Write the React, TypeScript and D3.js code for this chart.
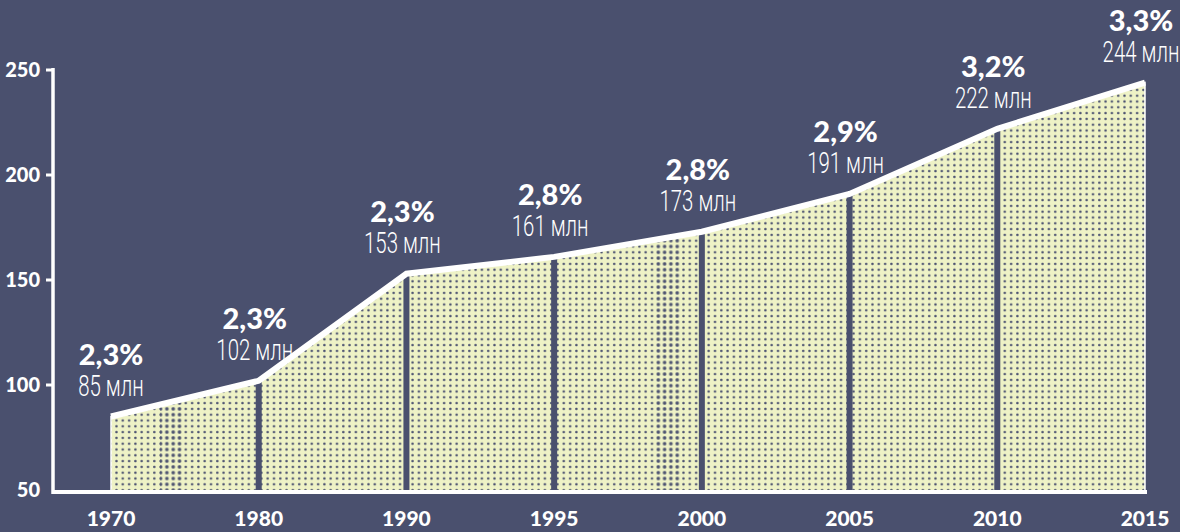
import * as d3 from 'd3'

const years = ['1970', '1980', '1990', '1995', '2000', '2005', '2010', '2015']
const values = [85, 102, 153, 161, 173, 191, 222, 244]
const shares = ['2,3%', '2,3%', '2,3%', '2,8%', '2,8%', '2,9%', '3,2%', '3,3%']
const yTicks = [50, 100, 150, 200, 250]

const W = 1180
const H = 532
const BG = '#4a506e'
const FILL = '#eef2c6'
const DOT = '#4b5170'

// halftone moiré columns seen in the print
const moire = [
  [160, 182],
  [655, 680],
]

export default function App() {
  const x = d3.scalePoint<string>().domain(years).range([111, 1145])
  const y = d3.scaleLinear().domain([50, 250]).range([490, 70])
  const base = 492
  const axisX = 53

  const pts = years.map((yr, i) => ({ yr, v: values[i], s: shares[i] }))

  const area = d3
    .area<typeof pts[number]>()
    .x((d) => x(d.yr)!)
    .y0(base)
    .y1((d) => y(d.v))
  const line = d3
    .line<typeof pts[number]>()
    .x((d) => x(d.yr)!)
    .y((d) => y(d.v))

  const areaD = area(pts)!

  return (
    <svg
      width={W}
      height={H}
      style={{ position: 'absolute', left: 0, top: 0, background: BG }}
    >
      <defs>
        <pattern id="dots" width={6.3} height={5.8} patternUnits="userSpaceOnUse">
          <rect width={6.3} height={5.8} fill={FILL} />
          <circle cx={3.1} cy={2.9} r={1.25} fill={DOT} />
        </pattern>
        <pattern id="dots2" width={6.3} height={5.8} patternUnits="userSpaceOnUse">
          <rect width={6.3} height={5.8} fill={FILL} />
          <circle cx={3.1} cy={2.9} r={2} fill={DOT} />
        </pattern>
        <clipPath id="areaClip">
          <path d={areaD} />
        </clipPath>
      </defs>
      <rect width={W} height={H} fill={BG} />

      {/* area */}
      <path d={areaD} fill="url(#dots)" stroke="#ffffff" strokeWidth={1.5} />
      <g clipPath="url(#areaClip)">
        {moire.map(([a, b]) => (
          <rect key={a} x={a} y={0} width={b - a} height={base} fill="url(#dots2)" opacity={0.7} />
        ))}
      </g>

      {/* separators */}
      {pts.slice(1, -1).map((d) => (
        <line
          key={d.yr}
          x1={x(d.yr)}
          x2={x(d.yr)}
          y1={base}
          y2={y(d.v)}
          stroke={BG}
          strokeWidth={6}
        />
      ))}

      {/* top line */}
      <path
        d={line(pts)!}
        fill="none"
        stroke="#ffffff"
        strokeWidth={6}
        strokeLinejoin="miter"
      />

      {/* baseline + y axis */}
      <line x1={axisX} x2={x('2015')! + 2} y1={base} y2={base} stroke="#ffffff" strokeWidth={4} />
      <line x1={axisX} x2={axisX} y1={68} y2={base + 2} stroke="#ffffff" strokeWidth={3.5} />

      {yTicks.map((t) => (
        <g key={t} transform={`translate(0,${y(t)})`}>
          {t !== 50 && (
            <line x1={axisX - 7} x2={axisX} y1={0} y2={0} stroke="#ffffff" strokeWidth={3} />
          )}
          <text
            x={40}
            y={7}
            textAnchor="end"
            fill="#ffffff"
            fontFamily="Lato, 'DejaVu Sans', sans-serif"
            fontWeight={900}
            fontSize={20}
          >
            {t}
          </text>
        </g>
      ))}

      {/* x labels */}
      {years.map((yr) => (
        <text
          key={yr}
          x={x(yr)}
          y={526}
          textAnchor="middle"
          fill="#ffffff"
          fontFamily="Lato, 'DejaVu Sans', sans-serif"
          fontWeight={900}
          fontSize={21}
        >
          {yr}
        </text>
      ))}

      {/* value labels */}
      {pts.map((d, i) => {
        const px = x(d.yr)! - (i === 0 ? 0 : 4)
        const py = y(d.v)
        return (
          <g key={d.yr}>
            <text
              x={px}
              y={py - 52}
              textAnchor="middle"
              fill="#ffffff"
              fontFamily="Lato, 'DejaVu Sans', sans-serif"
              fontWeight={900}
              fontSize={29}
            >
              {d.s}
            </text>
            <text
              transform={`translate(${px},${py - 21}) scale(0.68,1)`}
              textAnchor="middle"
              fill="#ffffff"
              fontFamily="Roboto, 'DejaVu Sans', sans-serif"
              fontWeight={300}
              fontSize={30}
            >
              {d.v} млн
            </text>
          </g>
        )
      })}
    </svg>
  )
}
